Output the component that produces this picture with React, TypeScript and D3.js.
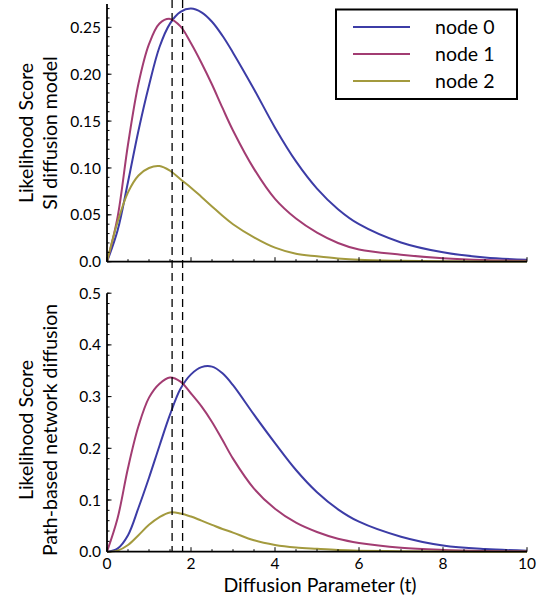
import React from 'react';
import * as d3 from 'd3';

// diffusion parameter samples (t)
const tValues = [0, 0.25, 0.5, 0.75, 1, 1.25, 1.5, 1.75, 2, 2.25, 2.5, 2.75, 3, 3.5, 4, 4.5, 5, 5.5, 6, 7, 8, 9, 10];

// SI diffusion model likelihood
const siNode0 = [0, 0.033, 0.085, 0.14, 0.188, 0.229, 0.254, 0.2665, 0.27, 0.266, 0.256, 0.241, 0.223, 0.184, 0.143, 0.107, 0.078, 0.056, 0.04, 0.0205, 0.01, 0.0045, 0.002];
const siNode1 = [0, 0.047, 0.125, 0.19, 0.232, 0.254, 0.259, 0.251, 0.233, 0.212, 0.189, 0.164, 0.14, 0.099, 0.067, 0.046, 0.031, 0.02, 0.013, 0.0075, 0.0038, 0.0018, 0.001];
const siNode2 = [0, 0.042, 0.074, 0.092, 0.1, 0.102, 0.097, 0.088, 0.079, 0.069, 0.059, 0.049, 0.04, 0.026, 0.015, 0.0085, 0.0058, 0.0035, 0.002, 0.001, 0.0005, 0.0002, 0.0001];

// path-based network diffusion likelihood
const pathNode0 = [0, 0.006, 0.032, 0.085, 0.143, 0.205, 0.265, 0.315, 0.343, 0.357, 0.358, 0.345, 0.322, 0.265, 0.21, 0.158, 0.115, 0.082, 0.058, 0.029, 0.012, 0.005, 0.002];
const pathNode1 = [0, 0.064, 0.162, 0.243, 0.298, 0.325, 0.337, 0.329, 0.306, 0.281, 0.251, 0.216, 0.18, 0.122, 0.083, 0.056, 0.038, 0.025, 0.017, 0.0077, 0.0035, 0.0015, 0.0007];
const pathNode2 = [0, 0.002, 0.013, 0.032, 0.052, 0.067, 0.076, 0.074, 0.068, 0.06, 0.052, 0.044, 0.037, 0.022, 0.013, 0.008, 0.0055, 0.0033, 0.002, 0.0008, 0.0003, 0.0001, 0];

const nodeNames = ['node 0', 'node 1', 'node 2'];
const nodeColors = ['#3c3ca6', '#a23c72', '#a39a3e'];
const markerTimes = [1.55, 1.8];

const xTicks = [0, 2, 4, 6, 8, 10];
const siTicks = [0, 0.05, 0.1, 0.15, 0.2, 0.25];
const pathTicks = [0, 0.1, 0.2, 0.3, 0.4, 0.5];

const font = 'Lato, sans-serif';

const x = d3.scaleLinear().domain([0, 10]).range([107, 527]);

function Panel({ y, series, majorTicks, minorStep, fmt, title, titleY, showX }) {
  const [y0, y1] = y.range();
  const line = d3.line<number>()
    .x((_, i) => x(tValues[i]))
    .y(d => y(d))
    .curve(d3.curveCatmullRom.alpha(0.5));
  const minorY = d3.range(0, y.domain()[1] + 1e-9, minorStep);
  const minorX = d3.range(0, 10.001, 0.5);
  return (
    <g>
      {series.map((s, i) => (
        <path key={i} d={line(s) || ''} fill="none" stroke={nodeColors[i]} strokeWidth={2} />
      ))}
      {/* axes */}
      <line x1={x(0)} x2={x(0)} y1={y0} y2={y1} stroke="#000" strokeWidth={1.8} />
      <line x1={x(0)} x2={x(10)} y1={y0} y2={y0} stroke="#000" strokeWidth={1.8} />
      {minorY.map((v, i) => (
        <line key={'my' + i} x1={x(0)} x2={x(0) + 2.5} y1={y(v)} y2={y(v)} stroke="#000" strokeWidth={1} />
      ))}
      {majorTicks.map((v, i) => (
        <g key={'ty' + i}>
          <line x1={x(0)} x2={x(0) + 4.5} y1={y(v)} y2={y(v)} stroke="#000" strokeWidth={1} />
          <text x={101} y={y(v)} dy="0.36em" textAnchor="end" fontSize={15.5} fontFamily={font}>{fmt(v)}</text>
        </g>
      ))}
      {minorX.map((v, i) => (
        <line key={'mx' + i} x1={x(v)} x2={x(v)} y1={y0} y2={y0 - (v % 2 === 0 ? 4.5 : 2.5)} stroke="#000" strokeWidth={1} />
      ))}
      {showX && xTicks.map((v, i) => (
        <text key={'tx' + i} x={x(v)} y={y0 + 17} textAnchor="middle" fontSize={15.5} fontFamily={font}>{v}</text>
      ))}
      <g fontSize={19.5} fontFamily={font} textAnchor="middle">
        <text transform={`translate(33,${titleY}) rotate(-90)`}>{title[0]}</text>
        <text transform={`translate(57,${titleY}) rotate(-90)`}>{title[1]}</text>
      </g>
    </g>
  );
}

export default function App() {
  const ySI = d3.scaleLinear().domain([0, 0.275]).range([261.7, 3.9]);
  const yPath = d3.scaleLinear().domain([0, 0.5]).range([551.7, 293.2]);
  return (
    <svg width={548} height={599} style={{ position: 'absolute', left: 0, top: 0, background: '#fff' }}>
      <Panel
        y={ySI}
        series={[siNode0, siNode1, siNode2]}
        majorTicks={siTicks}
        minorStep={0.01}
        fmt={v => (v === 0 ? '0.0' : d3.format('.2f')(v))}
        title={['Likelihood Score', 'SI diffusion model']}
        titleY={133}
        showX={false}
      />
      <Panel
        y={yPath}
        series={[pathNode0, pathNode1, pathNode2]}
        majorTicks={pathTicks}
        minorStep={0.02}
        fmt={d3.format('.1f')}
        title={['Likelihood Score', 'Path-based network diffusion']}
        titleY={430}
        showX={true}
      />
      {markerTimes.map((t, i) => (
        <line key={i} x1={x(t)} x2={x(t)} y1={0} y2={551} stroke="#000" strokeWidth={1.3} strokeDasharray="8,5" />
      ))}
      <text x={320} y={592} textAnchor="middle" fontSize={19.5} fontFamily={font}>Diffusion Parameter (t)</text>
      <g>
        <rect x={336} y={9.5} width={181} height={89.5} fill="#fff" stroke="#000" strokeWidth={2} />
        {nodeNames.map((n, i) => (
          <g key={n}>
            <line x1={353} x2={410} y1={27 + 27 * i} y2={27 + 27 * i} stroke={nodeColors[i]} strokeWidth={2} />
            <text x={435} y={27 + 27 * i} dy="0.36em" fontSize={19.5} fontFamily={font}>{n}</text>
          </g>
        ))}
      </g>
    </svg>
  );
}
